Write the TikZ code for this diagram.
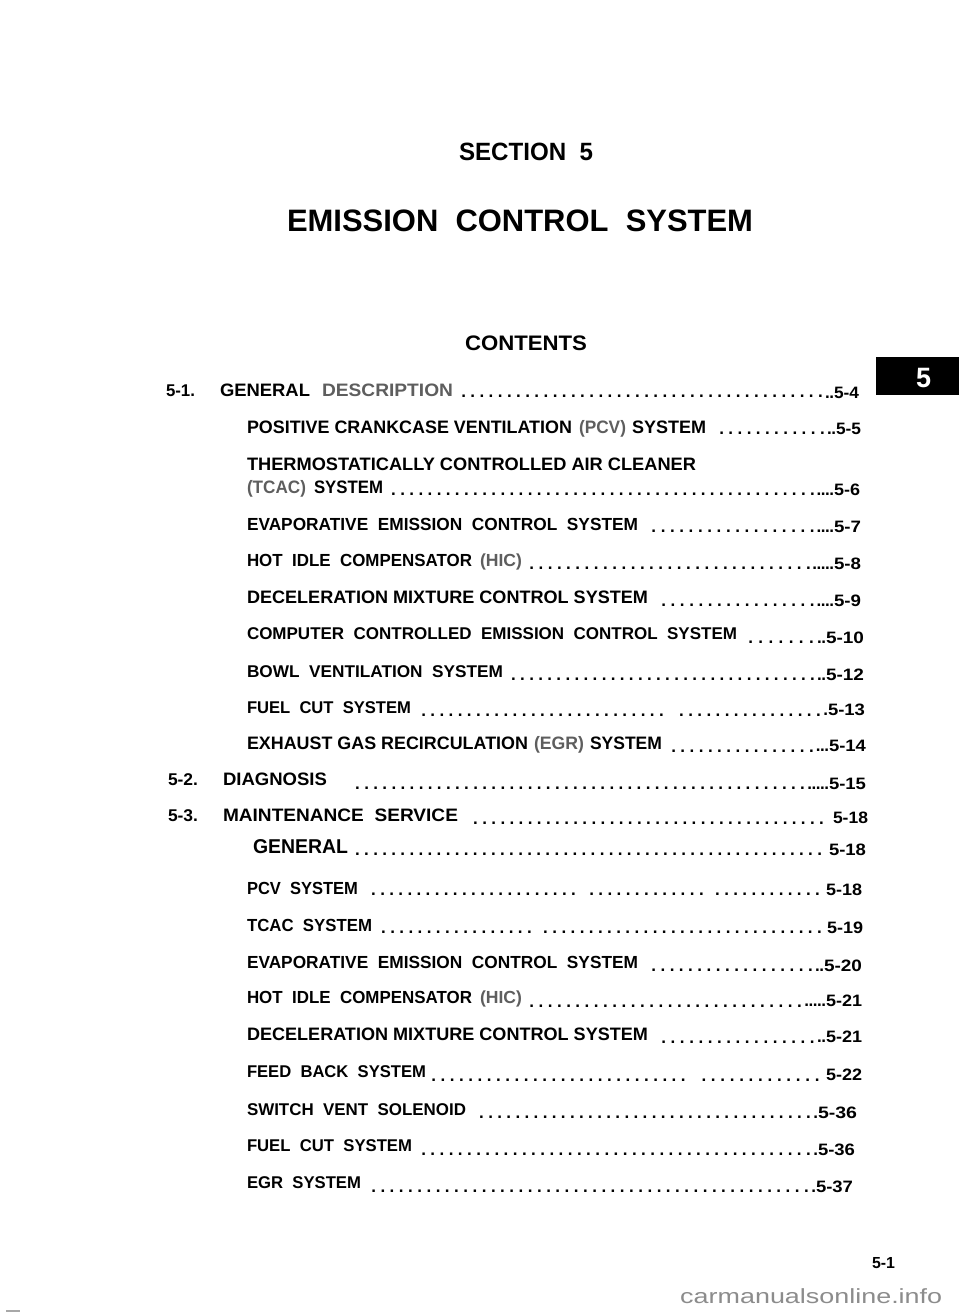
\documentclass[tikz,border=0pt]{standalone}
\usepackage{fontspec}
\setmainfont{Liberation Sans}
\definecolor{softgrey}{HTML}{5E5E5E}
\definecolor{markgrey}{HTML}{8C8C8C}
\definecolor{tickgrey}{HTML}{A8A8A8}
\newcounter{rowid}
\newsavebox{\fitbox}
\newcommand{\fittext}[3]{\sbox{\fitbox}{\fontsize{#2pt}{#2pt}\selectfont\bfseries #3}%
  \pgfmathsetmacro{\fitratio}{#1/(\wd\fitbox/1pt)}\scalebox{\fitratio}[1]{\usebox{\fitbox}}}
\newcommand{\fitplain}[3]{\sbox{\fitbox}{\fontsize{#2pt}{#2pt}\selectfont #3}%
  \pgfmathsetmacro{\fitratio}{#1/(\wd\fitbox/1pt)}\scalebox{\fitratio}[1]{\usebox{\fitbox}}}
\tikzset{x=1pt,y=-1pt,
  lab/.style={anchor=base west,inner sep=0pt,outer sep=0pt,text=black},
  softlab/.style={lab,text=softgrey}}
\newcommand{\tx}[5]{\stepcounter{rowid}\pgfmathsetmacro{\fitw}{#2-#1}%
  \node[lab] (t\therowid) at (#1,#3) {\fittext{\fitw}{#4}{#5}};}
\newcommand{\gx}[5]{\stepcounter{rowid}\pgfmathsetmacro{\fitw}{#2-#1}%
  \node[softlab] (t\therowid) at (#1,#3) {\fittext{\fitw}{#4}{#5}};}
\newcommand{\drraw}[4]{\stepcounter{rowid}\pgfmathsetmacro{\fitw}{#2-#1}%
  \node[lab] (t\therowid) at (#1,#3) {\fontsize{17pt}{17pt}\selectfont\bfseries\hbox to \fitw pt{\xleaders\hbox to #4pt{\hss.\hss}\hfill}};}
% spaced leader dots
\newcommand{\dr}[3]{\pgfmathsetmacro{\drs}{#1-3}\drraw{\drs}{#2}{#3}{9.05}}
% page number with tight dots: x1 x2 baseline n text
\newcommand{\pn}[5]{\ifnum#4>0\pgfmathsetmacro{\tds}{#1-#4*4.2-0.5}\drraw{\tds}{#1}{#3}{4.2}\fi
  \tx{#1}{#2}{#3}{16.5}{#5}}
\begin{document}
\begin{tikzpicture}
\useasboundingbox (0,0) rectangle (960,1313);
\fill[white] (0,0) rectangle (960,1313);
\fill[black] (876,357) rectangle (959,395);
\stepcounter{rowid}
\node[lab,text=white] (tab) at (916,387) {\fittext{15}{28}{5}};
\tx{459}{593}{161}{25}{SECTION\ \ 5}
\tx{287}{753}{232}{31}{EMISSION\ \ CONTROL\ \ SYSTEM}
\tx{465}{587}{350}{21}{CONTENTS}
% 5-1
\tx{166}{195}{396}{17}{5-1.}
\tx{220}{310}{396}{18}{GENERAL}
\gx{322}{453}{396}{18}{DESCRIPTION}
\dr{462}{825}{397}\pn{834}{859}{398}{2}{5-4}
\tx{247}{572}{433}{18}{POSITIVE CRANKCASE VENTILATION}
\gx{579}{626}{433}{18}{(PCV)}
\tx{632}{706}{433}{18}{SYSTEM}
\dr{720}{827}{434}\pn{836}{861}{434}{2}{5-5}
\tx{247}{696}{470}{18}{THERMOSTATICALLY CONTROLLED AIR CLEANER}
\gx{247}{306}{493}{18}{(TCAC)}
\tx{314}{383}{493}{18}{SYSTEM}
\dr{392}{817}{495}\pn{834}{860}{495}{4}{5-6}
\tx{247}{638}{530}{17.5}{EVAPORATIVE\ \ EMISSION\ \ CONTROL\ \ SYSTEM}
\dr{652}{817}{532}\pn{834}{861}{532}{4}{5-7}
\tx{247}{472}{566}{17.5}{HOT\ \ IDLE\ \ COMPENSATOR}
\gx{480}{522}{566}{17.5}{(HIC)}
\dr{530}{813}{569}\pn{834}{861}{569}{5}{5-8}
\tx{247}{648}{603}{18}{DECELERATION MIXTURE CONTROL SYSTEM}
\dr{662}{817}{606}\pn{834}{861}{606}{4}{5-9}
\tx{247}{737}{639}{17}{COMPUTER\ \ CONTROLLED\ \ EMISSION\ \ CONTROL\ \ SYSTEM}
\dr{748}{817}{643}\pn{826}{864}{643}{2}{5-10}
\tx{247}{503}{677}{17}{BOWL\ \ VENTILATION\ \ SYSTEM}
\dr{512}{817}{680}\pn{826}{864}{680}{2}{5-12}
\tx{247}{411}{713}{17}{FUEL\ \ CUT\ \ SYSTEM}
\dr{422}{666}{716}\dr{680}{823}{716}\pn{828}{865}{715}{1}{5-13}
\tx{247}{528}{749}{18}{EXHAUST GAS RECIRCULATION}
\gx{534}{584}{749}{18}{(EGR)}
\tx{590}{662}{749}{18}{SYSTEM}
\dr{672}{816}{752}\pn{829}{866}{751}{3}{5-14}
% 5-2
\tx{168}{198}{785}{17}{5-2.}
\tx{223}{327}{785}{18}{DIAGNOSIS}
\dr{356}{807}{789}\pn{829}{866}{789}{5}{5-15}
% 5-3
\tx{168}{198}{821}{17}{5-3.}
\tx{223}{458}{821}{18}{MAINTENANCE\ \ SERVICE}
\dr{474}{826}{824}\pn{833}{868}{823}{0}{5-18}
\tx{253}{348}{853}{20}{GENERAL}
\dr{356}{824}{855}\pn{829}{866}{855}{0}{5-18}
\tx{247}{358}{894}{17.5}{PCV\ \ SYSTEM}
\dr{372}{578}{895}\dr{590}{706}{895}\dr{716}{822}{895}\pn{826}{862}{895}{0}{5-18}
\tx{247}{372}{931}{17.5}{TCAC\ \ SYSTEM}
\dr{382}{534}{933}\dr{544}{824}{933}\pn{827}{863}{933}{0}{5-19}
\tx{247}{638}{968}{17.5}{EVAPORATIVE\ \ EMISSION\ \ CONTROL\ \ SYSTEM}
\dr{652}{815}{971}\pn{824}{862}{971}{2}{5-20}
\tx{247}{472}{1003}{17.5}{HOT\ \ IDLE\ \ COMPENSATOR}
\gx{480}{522}{1003}{17.5}{(HIC)}
\dr{530}{804}{1007}\pn{826}{862}{1006}{5}{5-21}
\tx{247}{648}{1040}{18}{DECELERATION MIXTURE CONTROL SYSTEM}
\dr{662}{817}{1043}\pn{826}{862}{1042}{2}{5-21}
\tx{247}{426}{1077}{17}{FEED\ \ BACK\ \ SYSTEM}
\dr{432}{688}{1081}\dr{702}{822}{1081}\pn{826}{862}{1080}{0}{5-22}
\tx{247}{466}{1115}{17}{SWITCH\ \ VENT\ \ SOLENOID}
\dr{480}{813}{1118}\pn{818}{857}{1118}{1}{5-36}
\tx{247}{412}{1151}{17}{FUEL\ \ CUT\ \ SYSTEM}
\dr{422}{813}{1155}\pn{818}{855}{1155}{1}{5-36}
\tx{247}{361}{1188}{17}{EGR\ \ SYSTEM}
\dr{372}{811}{1192}\pn{816}{853}{1192}{1}{5-37}
\tx{872}{895}{1268}{16}{5-1}
\node[anchor=base west,inner sep=0pt,text=markgrey] (site) at (680,1303) {\fitplain{262}{20.5}{carmanualsonline.info}};
\fill[tickgrey] (6,1310) rectangle (20,1312);
\end{tikzpicture}
\end{document}
